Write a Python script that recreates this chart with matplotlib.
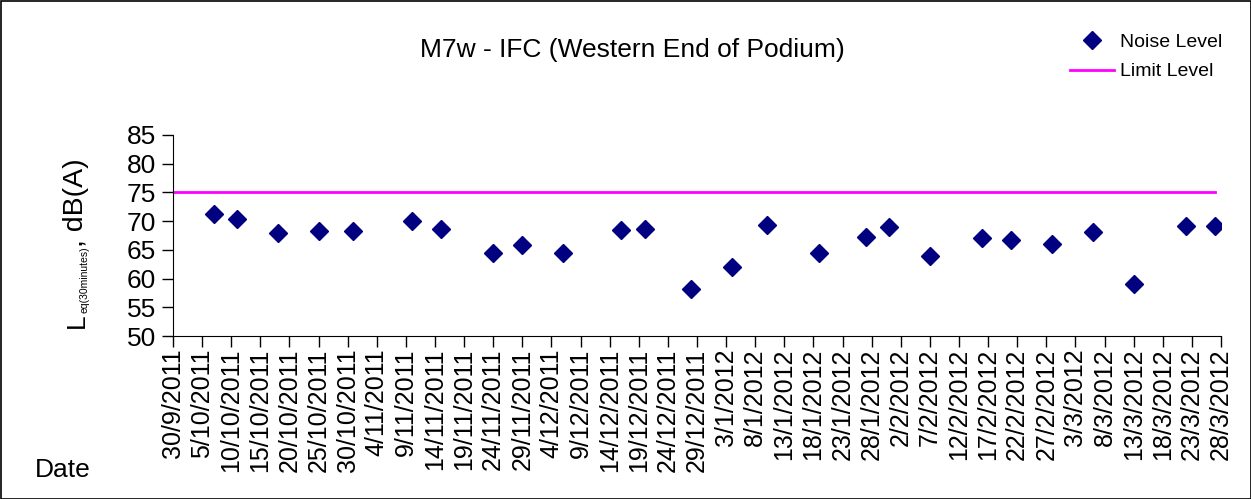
import datetime as dt
import matplotlib
matplotlib.use("Agg")
import matplotlib.pyplot as plt
from matplotlib.patches import Rectangle

plt.rcParams['font.family'] = ['Liberation Sans', 'DejaVu Sans']

# measurement dates and noise levels
dates = ["7/10/2011", "11/10/2011", "18/10/2011", "25/10/2011", "31/10/2011",
         "10/11/2011", "15/11/2011", "24/11/2011", "29/11/2011", "6/12/2011",
         "16/12/2011", "20/12/2011", "28/12/2011", "4/1/2012", "10/1/2012",
         "19/1/2012", "27/1/2012", "31/1/2012", "7/2/2012", "16/2/2012",
         "21/2/2012", "28/2/2012", "6/3/2012", "13/3/2012", "22/3/2012",
         "27/3/2012"]
noise = [71.2, 70.4, 68.0, 68.2, 68.2,
         70.1, 68.6, 64.4, 65.8, 64.5,
         68.4, 68.7, 58.1, 62.0, 69.3,
         64.5, 67.2, 69.0, 64.0, 67.0,
         66.8, 66.1, 68.1, 59.0, 69.1,
         69.1]
limit_level = 75
limit_span = ["30/9/2011", "27/3/2012"]
start_date = "30/9/2011"
end_date = "28/3/2012"
yticks = [50, 55, 60, 65, 70, 75, 80, 85]


def parse(s):
    return dt.datetime.strptime(s, "%d/%m/%Y")


x = [parse(d) for d in dates]
x0, x1 = parse(start_date), parse(end_date)

W, H = 1251, 499
fig = plt.figure(figsize=(W / 100, H / 100), dpi=100)
ax = fig.add_axes([173 / W, 1 - 336 / H, (1221 - 173) / W, (336 - 135) / H])

ax.plot(x, noise, linestyle='none', marker='D', markersize=9,
        color='#000080', label='Noise Level', zorder=3)
ax.plot([parse(d) for d in limit_span], [limit_level] * 2, color='#ff00ff',
        linewidth=2, label='Limit Level')

ax.set_xlim(x0, x1)
ax.set_ylim(50, 85)
ax.set_yticks(yticks)

ticks = []
t = x0
while t <= x1:
    ticks.append(t)
    t += dt.timedelta(days=5)
ax.set_xticks(ticks)
ax.set_xticklabels([f"{d.day}/{d.month}/{d.year}" for d in ticks], rotation=90)

ax.tick_params(axis='x', labelsize=18, length=8, width=1, pad=1)
ax.tick_params(axis='y', labelsize=19, length=8, width=1, pad=4)
for s in ['top', 'right']:
    ax.spines[s].set_visible(False)

# y label: big L, small subscript, then , dB(A)
t1 = fig.text(89 / W, 1 - 328 / H, 'L', rotation=90, fontsize=19,
              ha='right', va='bottom')
t2 = ax.annotate('eq(30minutes)', xy=(1.0, 1.0), xycoords=t1, rotation=90,
                 fontsize=7.5, ha='right', va='bottom', annotation_clip=False)
t3 = ax.annotate(', dB(A)', xy=(1.0, 1.0), xycoords=t2, rotation=90,
                 fontsize=20.5, ha='right', va='bottom', annotation_clip=False)

fig.text(632 / W, 1 - 50 / H, 'M7w - IFC (Western End of Podium)',
         ha='center', va='center', fontsize=19)
fig.text(63 / W, 1 - 470 / H, 'Date', ha='center', va='center', fontsize=19)

fig.legend(loc='upper left', bbox_to_anchor=(1052 / W, 1 - 16 / H),
           frameon=False, fontsize=14, handlelength=2.3, handletextpad=0.3,
           labelspacing=0.6)

fig.patches.append(Rectangle((0.5 / W, 0.5 / H), 1 - 1 / W, 1 - 1 / H,
                             transform=fig.transFigure, fill=False,
                             edgecolor='black', linewidth=1.2))

fig.savefig("out.png", dpi=100)
